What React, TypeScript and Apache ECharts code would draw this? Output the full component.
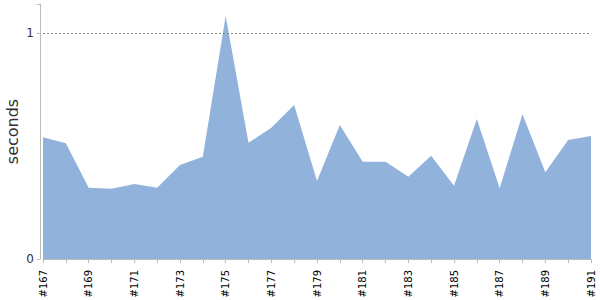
import React, { useEffect, useRef } from "react";
import * as echarts from "echarts";

const builds = [
  "#167", "#168", "#169", "#170", "#171", "#172", "#173", "#174", "#175",
  "#176", "#177", "#178", "#179", "#180", "#181", "#182", "#183", "#184",
  "#185", "#186", "#187", "#188", "#189", "#190", "#191",
];
const seconds = [
  0.539, 0.513, 0.316, 0.311, 0.332, 0.316, 0.416, 0.453, 1.077,
  0.515, 0.582, 0.682, 0.346, 0.594, 0.431, 0.431, 0.365, 0.458,
  0.325, 0.62, 0.313, 0.641, 0.384, 0.527, 0.545,
];
const yTicks = [0, 1];
const refLine = 1;

export default function App() {
  const ref = useRef<HTMLDivElement>(null);
  useEffect(() => {
    if (!ref.current) return;
    const chart = echarts.init(ref.current, null, { renderer: "svg" });
    chart.setOption({
      animation: false,
      grid: { left: 43, right: 9, top: 4, bottom: 41, outerBoundsMode: "none", containLabel: false },
      xAxis: {
        type: "category",
        data: builds,
        boundaryGap: false,
        offset: 4,
        axisLine: { show: true, lineStyle: { color: "#bbbbbb", width: 1 } },
        axisTick: { show: true, length: 4, interval: 0, lineStyle: { color: "#bbbbbb" } },
        axisLabel: {
          interval: 1,
          rotate: 90,
          margin: 7,
          color: "#000000",
          fontSize: 10,
          fontFamily: "DejaVu Sans",
        },
        splitLine: { show: false },
      },
      yAxis: {
        type: "value",
        min: yTicks[0],
        max: 1.13,
        interval: 1,
        offset: 3,
        name: "seconds",
        nameLocation: "middle",
        nameGap: 20,
        nameMoveOverlap: false,
        nameTextStyle: { color: "#333333", fontSize: 16, fontFamily: "DejaVu Sans" },
        axisLine: { show: true, lineStyle: { color: "#bbbbbb", width: 1 } },
        axisTick: { show: true, length: 3, lineStyle: { color: "#bbbbbb" } },
        axisLabel: {
          color: "#333333",
          fontSize: 12,
          fontFamily: "DejaVu Sans",
          margin: 6,
          formatter: (v: number) => (yTicks.includes(v) ? String(v) : ""),
        },
        splitLine: { show: false },
      },
      series: [
        {
          type: "line",
          data: seconds,
          showSymbol: false,
          symbol: "none",
          lineStyle: { width: 0, color: "#91b2db" },
          itemStyle: { color: "#91b2db" },
          areaStyle: { color: "#91b2db", opacity: 1 },
          markLine: {
            silent: true,
            symbol: ["none", "none"],
            label: { show: false },
            lineStyle: { color: "#888888", type: [2, 2], width: 1 },
            data: [{ yAxis: refLine }],
          },
        },
      ],
    });
    return () => chart.dispose();
  }, []);
  return <div ref={ref} style={{ width: 600, height: 300, position: "absolute", left: 0, top: 0 }} />;
}
